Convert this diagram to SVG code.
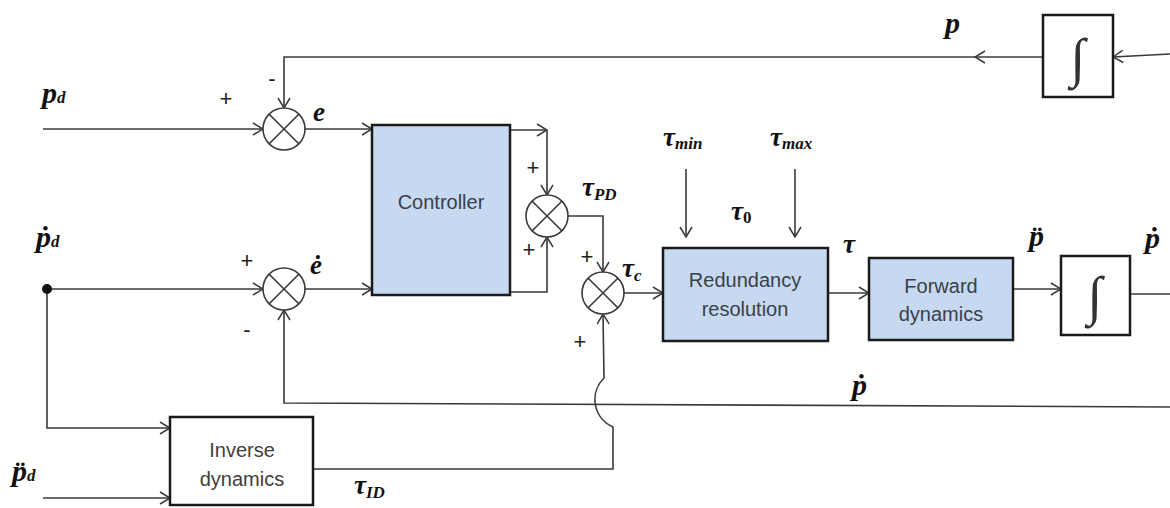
<svg xmlns="http://www.w3.org/2000/svg" width="1170" height="508" viewBox="0 0 1170 508">
<defs>
<marker id="arr" viewBox="0 0 12 14" markerUnits="userSpaceOnUse" markerWidth="12" markerHeight="14" refX="11" refY="7" orient="auto">
<path d="M1,1 L11,7 L1,13" fill="none" stroke="#3a3a3a" stroke-width="1.5"/>
</marker>
<style>
.ln{fill:none;stroke:#3a3a3a;stroke-width:1.6}
.bx{stroke:#1a1a1a;stroke-width:2.5}
.blue{fill:#c6d9f1}
.white{fill:#ffffff}
.sum{fill:#ffffff;stroke:#3a3a3a;stroke-width:1.6}
.bt{font-family:"Liberation Sans",Arial,sans-serif;font-size:20px;fill:#3a4048;text-anchor:middle}
.m{font-family:"Liberation Serif","Times New Roman",serif;font-weight:bold;font-style:italic;fill:#111}
.sg{font-family:"Liberation Sans",Arial,sans-serif;font-size:22px;fill:#222;text-anchor:middle}
.int{font-family:"Liberation Serif","Times New Roman",serif;font-size:54px;fill:#333;text-anchor:middle}
</style>
</defs>

<g id="connectors">
<path class="ln" d="M43,129 H263" marker-end="url(#arr)"/>
<path class="ln" d="M47,289 H263" marker-end="url(#arr)"/>
<path class="ln" d="M47,289 V428 H170" marker-end="url(#arr)"/>
<path class="ln" d="M43,498 H170" marker-end="url(#arr)"/>
<path class="ln" d="M305,129 H372" marker-end="url(#arr)"/>
<path class="ln" d="M305,289 H372" marker-end="url(#arr)"/>
<path class="ln" d="M510,130 H547" marker-end="url(#arr)"/>
<path class="ln" d="M547,130 V195" marker-end="url(#arr)"/>
<path class="ln" d="M510,292 H547 V237" marker-end="url(#arr)"/>
<path class="ln" d="M568,216 H603 V272" marker-end="url(#arr)"/>
<path class="ln" d="M624,293 H663" marker-end="url(#arr)"/>
<path class="ln" d="M686,169 V237" marker-end="url(#arr)"/>
<path class="ln" d="M795,169 V237" marker-end="url(#arr)"/>
<path class="ln" d="M828,293 H869" marker-end="url(#arr)"/>
<path class="ln" d="M1013,289 H1061" marker-end="url(#arr)"/>
<path class="ln" d="M1130,294 H1170"/>
<path class="ln" d="M1170,54 L1113,57" marker-end="url(#arr)"/>
<path class="ln" d="M1043,57 H975" marker-end="url(#arr)"/>
<path class="ln" d="M975,57 H284 V108" marker-end="url(#arr)"/>
<path class="ln" d="M1170,407 L284,403 L284,310" marker-end="url(#arr)"/>
<path class="ln" d="M313,469 H613 V427 A30,30 0 0 1 604,378 L603,314" marker-end="url(#arr)"/>
<circle cx="47" cy="289" r="5" fill="#111"/>
</g>

<g id="sum_e">
<circle class="sum" cx="284" cy="129" r="21"/>
<path class="ln" d="M269.2,114.2 L298.8,143.8 M298.8,114.2 L269.2,143.8"/>
</g>
<g id="sum_edot">
<circle class="sum" cx="284" cy="289" r="21"/>
<path class="ln" d="M269.2,274.2 L298.8,303.8 M298.8,274.2 L269.2,303.8"/>
</g>
<g id="sum_pd">
<circle class="sum" cx="547" cy="216" r="21"/>
<path class="ln" d="M532.2,201.2 L561.8,230.8 M561.8,201.2 L532.2,230.8"/>
</g>
<g id="sum_c">
<circle class="sum" cx="603" cy="293" r="21"/>
<path class="ln" d="M588.2,278.2 L617.8,307.8 M617.8,278.2 L588.2,307.8"/>
</g>

<g id="controller">
<rect class="bx blue" x="372" y="125" width="138" height="170"/>
<text class="bt" x="441" y="209">Controller</text>
</g>
<g id="redundancy">
<rect class="bx blue" x="663" y="248" width="165" height="93"/>
<text class="bt" x="745" y="287">Redundancy</text>
<text class="bt" x="745" y="316">resolution</text>
</g>
<g id="forward">
<rect class="bx blue" x="869" y="258" width="144" height="82"/>
<text class="bt" x="941" y="293">Forward</text>
<text class="bt" x="941" y="321">dynamics</text>
</g>
<g id="integrator2">
<rect class="bx white" x="1061" y="256" width="69" height="79"/>
<text class="int" x="1095" y="314">∫</text>
</g>
<g id="integrator1">
<rect class="bx white" x="1043" y="15" width="70" height="82"/>
<text class="int" x="1078" y="76">∫</text>
</g>
<g id="inverse">
<rect class="bx white" x="170" y="417" width="143" height="88"/>
<text class="bt" x="242" y="457" style="fill:#404040">Inverse</text>
<text class="bt" x="242" y="486" style="fill:#404040">dynamics</text>
</g>

<g id="labels">
<text class="m" x="42" y="103" font-size="30">p<tspan font-size="17">d</tspan></text>
<text class="m" x="36" y="247" font-size="30">ṗ<tspan font-size="17">d</tspan></text>
<text class="m" x="12" y="481" font-size="30">p̈<tspan font-size="17">d</tspan></text>
<text class="m" x="313" y="121" font-size="27">e</text>
<text class="m" x="310" y="274" font-size="27">ė</text>
<text class="m" x="582" y="196" font-size="27">τ<tspan font-size="17" dy="4">PD</tspan></text>
<text class="m" x="622" y="277" font-size="27">τ<tspan font-size="17" dy="4">c</tspan></text>
<text class="m" x="663" y="146" font-size="27">τ<tspan font-size="17" dy="3">min</tspan></text>
<text class="m" x="770" y="146" font-size="27">τ<tspan font-size="17" dy="3">max</tspan></text>
<text class="m" x="731" y="220" font-size="27">τ<tspan font-size="17" dy="3" font-style="normal">0</tspan></text>
<text class="m" x="843" y="253" font-size="27">τ</text>
<text class="m" x="354" y="494" font-size="27">τ<tspan font-size="17" dy="4">ID</tspan></text>
<text class="m" x="945" y="33" font-size="30">p</text>
<text class="m" x="1029" y="246" font-size="30">p̈</text>
<text class="m" x="1145" y="248" font-size="30">ṗ</text>
<text class="m" x="852" y="395" font-size="30">ṗ</text>
<text class="sg" x="226" y="106">+</text>
<text class="sg" x="272" y="86">-</text>
<text class="sg" x="247" y="268">+</text>
<text class="sg" x="247" y="337">-</text>
<text class="sg" x="533" y="175">+</text>
<text class="sg" x="529" y="257">+</text>
<text class="sg" x="587" y="264">+</text>
<text class="sg" x="580" y="349">+</text>
</g>
</svg>
